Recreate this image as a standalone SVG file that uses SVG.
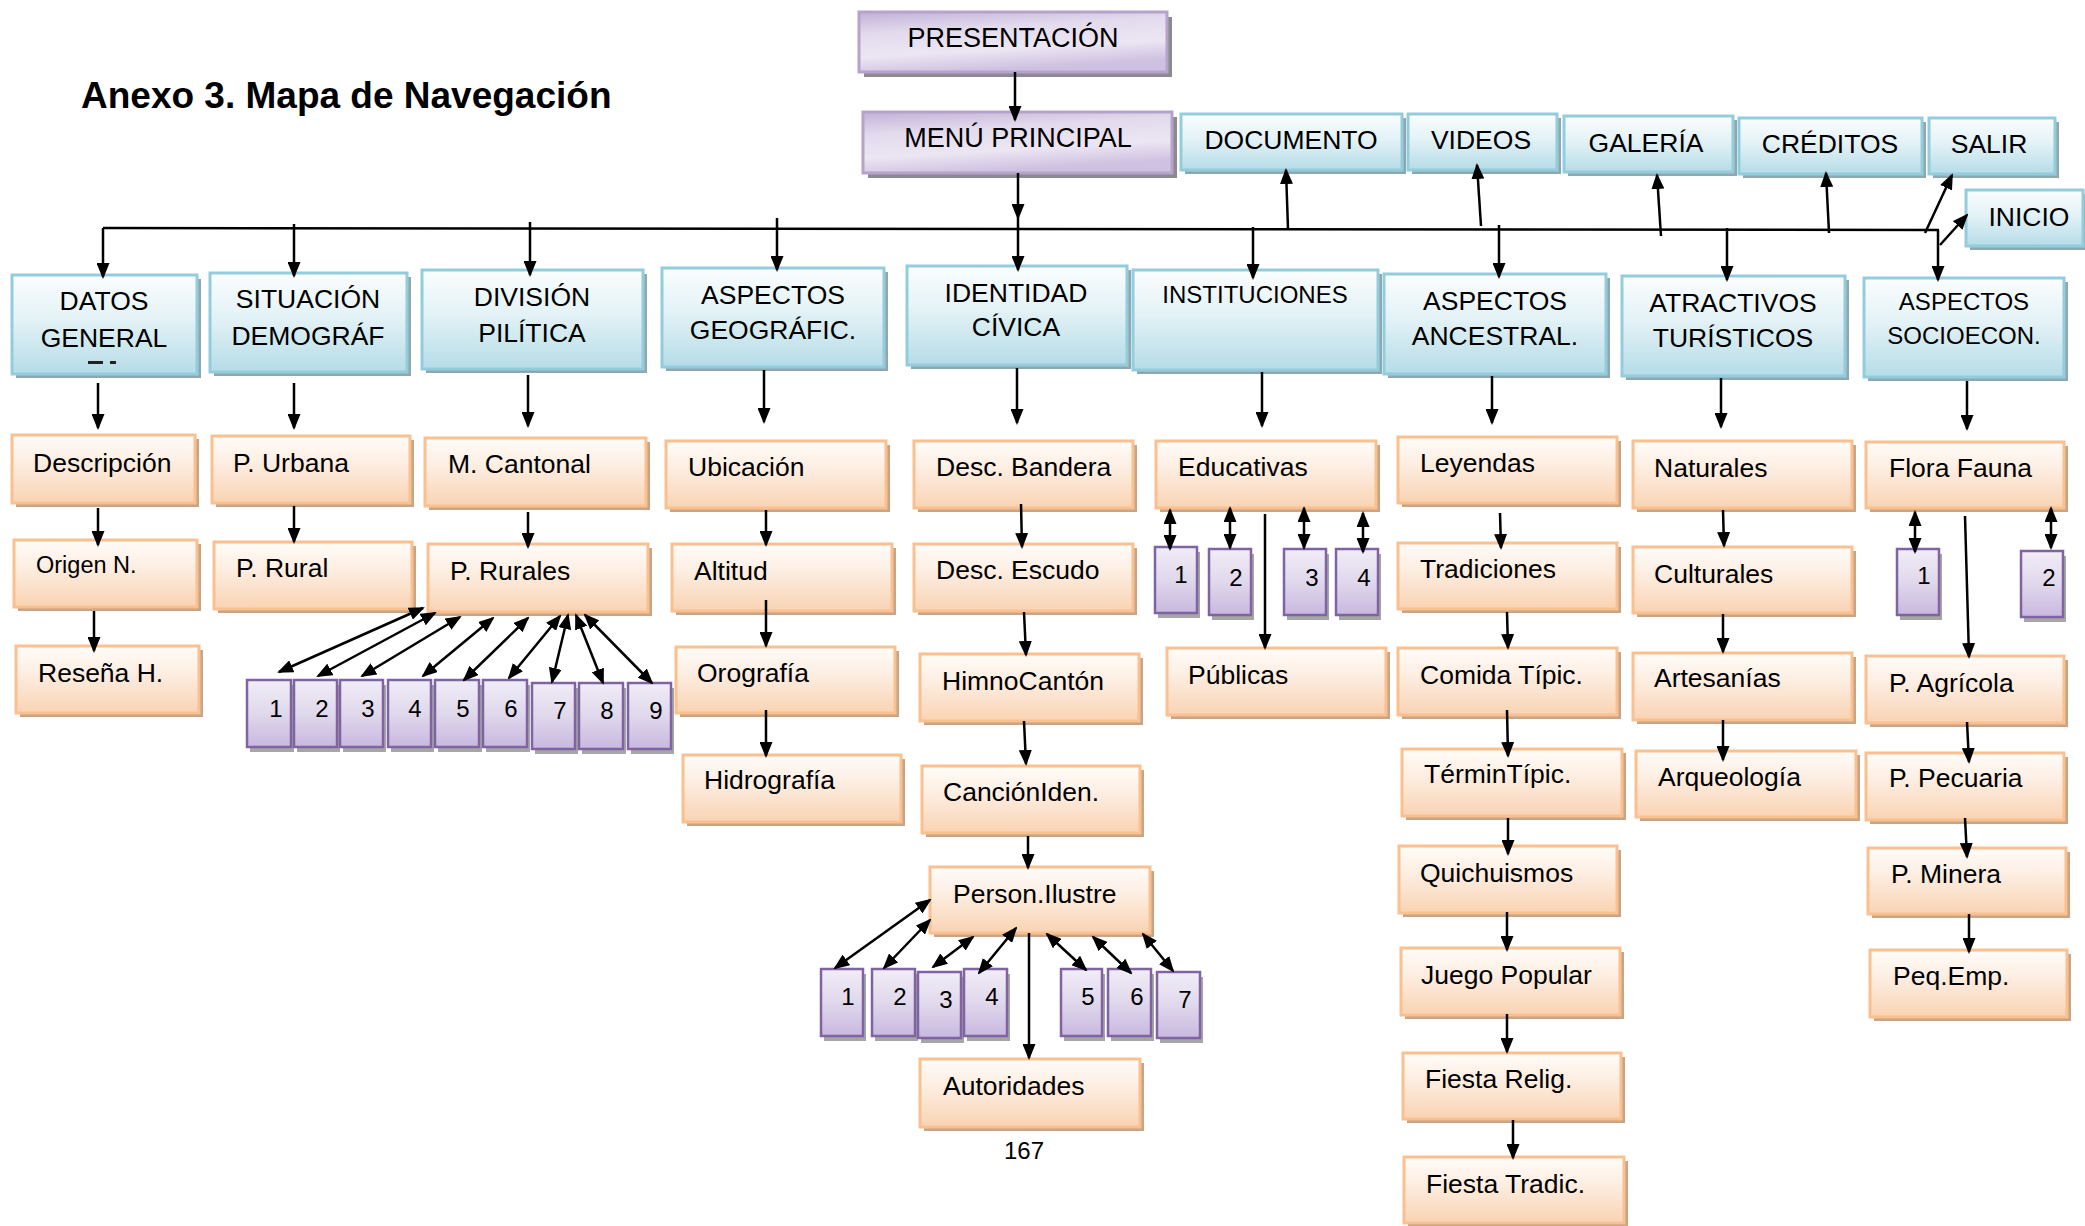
<svg xmlns="http://www.w3.org/2000/svg" width="2085" height="1226" viewBox="0 0 2085 1226">
<defs>
<linearGradient id="gB" x1="0" y1="0" x2="0" y2="1"><stop offset="0" stop-color="#fbfdfe"/><stop offset="0.45" stop-color="#e3f2f6"/><stop offset="1" stop-color="#b5dce7"/></linearGradient>
<linearGradient id="gP" x1="0" y1="0" x2="0" y2="1"><stop offset="0" stop-color="#fffcf9"/><stop offset="0.4" stop-color="#fdeee2"/><stop offset="1" stop-color="#f9d3b3"/></linearGradient>
<linearGradient id="gN" x1="0" y1="0" x2="0" y2="1"><stop offset="0" stop-color="#f1edf7"/><stop offset="0.5" stop-color="#e0d8ec"/><stop offset="1" stop-color="#c8b8df"/></linearGradient>
<linearGradient id="gH" x1="0" y1="0" x2="0.3" y2="1"><stop offset="0" stop-color="#c2b0d7"/><stop offset="0.35" stop-color="#e3dbed"/><stop offset="0.7" stop-color="#ece6f3"/><stop offset="1" stop-color="#cfc1e1"/></linearGradient>
<marker id="ah" viewBox="0 0 16 13" refX="14" refY="6.5" markerWidth="16" markerHeight="13" markerUnits="userSpaceOnUse" orient="auto-start-reverse"><path d="M0,0 L16,6.5 L0,13 z" fill="#000"/></marker>
<style>
.t{font-family:"Liberation Sans",Arial,sans-serif;font-size:26.5px;fill:#000}
.c{text-anchor:middle}
.sB{fill:#8fa8b0}
.sP{fill:#c9a585}
.sN{fill:#a6a6a6}
.sH{fill:#8c8a90}
.bB{fill:url(#gB);stroke:#93cddd;stroke-width:3}
.bP{fill:url(#gP);stroke:#fac08f;stroke-width:3}
.bN{fill:url(#gN);stroke:#8064a2;stroke-width:2.5}
.bH{fill:url(#gH);stroke:#b5a3cb;stroke-width:3}
.ln{stroke:#000;stroke-width:2.5;fill:none;marker-end:url(#ah)}
.db{marker-start:url(#ah)}
.pl{stroke:#000;stroke-width:2.5;fill:none}
</style>
</defs>
<rect width="2085" height="1226" fill="#fff"/>
<text class="t" x="81" y="108" style="font-size:37px;font-weight:bold">Anexo 3. Mapa de Navegación</text>
<text class="t c" x="1024" y="1159" style="font-size:24px">167</text>

<g id="presentacion"><rect class="sH" x="864" y="17" width="308" height="60"/><rect class="bH" x="859" y="12" width="308" height="60"/><text class="t c" x="1013" y="47" style="font-size:27px">PRESENTACIÓN</text></g>
<g id="menu"><rect class="sH" x="868" y="117" width="309" height="61"/><rect class="bH" x="863" y="112" width="309" height="61"/><text class="t c" x="1018" y="147" style="font-size:27px">MENÚ PRINCIPAL</text></g>

<g id="documento"><rect class="sB" x="1185" y="118" width="221" height="56"/><rect class="bB" x="1181" y="114" width="221" height="56"/><text class="t c" x="1291" y="149">DOCUMENTO</text></g>
<g id="videos"><rect class="sB" x="1412" y="118" width="149" height="56"/><rect class="bB" x="1408" y="114" width="149" height="56"/><text class="t c" x="1481" y="149">VIDEOS</text></g>
<g id="galeria"><rect class="sB" x="1568" y="120" width="169" height="56"/><rect class="bB" x="1564" y="116" width="169" height="56"/><text class="t c" x="1646" y="152">GALERÍA</text></g>
<g id="creditos"><rect class="sB" x="1743" y="122" width="183" height="56"/><rect class="bB" x="1739" y="118" width="183" height="56"/><text class="t c" x="1830" y="153">CRÉDITOS</text></g>
<g id="salir"><rect class="sB" x="1933" y="122" width="126" height="56"/><rect class="bB" x="1929" y="118" width="126" height="56"/><text class="t c" x="1989" y="153">SALIR</text></g>
<g id="inicio"><rect class="sB" x="1970" y="194" width="117" height="56"/><rect class="bB" x="1966" y="190" width="117" height="56"/><text class="t c" x="2029" y="226">INICIO</text></g>

<g id="datos"><rect class="sB" x="16" y="279" width="185" height="99"/><rect class="bB" x="12" y="275" width="185" height="99"/><text class="t c" x="104" y="310">DATOS</text><text class="t c" x="104" y="347">GENERAL</text><rect x="88" y="361" width="15" height="3" fill="#222"/><rect x="110" y="361" width="6" height="3" fill="#222"/></g>
<g id="situacion"><rect class="sB" x="214" y="277" width="197" height="99"/><rect class="bB" x="210" y="273" width="197" height="99"/><text class="t c" x="308" y="308">SITUACIÓN</text><text class="t c" x="308" y="345">DEMOGRÁF</text></g>
<g id="division"><rect class="sB" x="426" y="274" width="221" height="99"/><rect class="bB" x="422" y="270" width="221" height="99"/><text class="t c" x="532" y="306">DIVISIÓN</text><text class="t c" x="532" y="342">PILÍTICA</text></g>
<g id="geografic"><rect class="sB" x="666" y="272" width="222" height="99"/><rect class="bB" x="662" y="268" width="222" height="99"/><text class="t c" x="773" y="304">ASPECTOS</text><text class="t c" x="773" y="339">GEOGRÁFIC.</text></g>
<g id="identidad"><rect class="sB" x="911" y="270" width="220" height="99"/><rect class="bB" x="907" y="266" width="220" height="99"/><text class="t c" x="1016" y="302">IDENTIDAD</text><text class="t c" x="1016" y="336">CÍVICA</text></g>
<g id="instituciones"><rect class="sB" x="1137" y="274" width="245" height="100"/><rect class="bB" x="1133" y="270" width="245" height="100"/><text class="t c" x="1255" y="303" style="font-size:24px">INSTITUCIONES</text></g>
<g id="ancestral"><rect class="sB" x="1388" y="278" width="222" height="100"/><rect class="bB" x="1384" y="274" width="222" height="100"/><text class="t c" x="1495" y="310">ASPECTOS</text><text class="t c" x="1495" y="345">ANCESTRAL.</text></g>
<g id="atractivos"><rect class="sB" x="1626" y="280" width="223" height="100"/><rect class="bB" x="1622" y="276" width="223" height="100"/><text class="t c" x="1733" y="312">ATRACTIVOS</text><text class="t c" x="1733" y="347">TURÍSTICOS</text></g>
<g id="socioecon"><rect class="sB" x="1868" y="282" width="200" height="99"/><rect class="bB" x="1864" y="278" width="200" height="99"/><text class="t c" x="1964" y="310" style="font-size:24px">ASPECTOS</text><text class="t c" x="1964" y="344" style="font-size:24px">SOCIOECON.</text></g>

<g id="descripcion"><rect class="sP" x="16" y="439" width="183" height="68"/><rect class="bP" x="12" y="435" width="183" height="68"/><text class="t" x="33" y="472">Descripción</text></g>
<g id="origen"><rect class="sP" x="18" y="544" width="183" height="67"/><rect class="bP" x="14" y="540" width="183" height="67"/><text class="t" x="36" y="573" style="font-size:23.5px">Origen N.</text></g>
<g id="resena"><rect class="sP" x="20" y="650" width="183" height="67"/><rect class="bP" x="16" y="646" width="183" height="67"/><text class="t" x="38" y="682">Reseña H.</text></g>

<g id="urbana"><rect class="sP" x="216" y="440" width="198" height="67"/><rect class="bP" x="212" y="436" width="198" height="67"/><text class="t" x="233" y="472">P. Urbana</text></g>
<g id="rural"><rect class="sP" x="218" y="546" width="198" height="67"/><rect class="bP" x="214" y="542" width="198" height="67"/><text class="t" x="236" y="577">P. Rural</text></g>

<g id="cantonal"><rect class="sP" x="429" y="442" width="221" height="68"/><rect class="bP" x="425" y="438" width="221" height="68"/><text class="t" x="448" y="473">M. Cantonal</text></g>
<g id="rurales"><rect class="sP" x="432" y="548" width="220" height="68"/><rect class="bP" x="428" y="544" width="220" height="68"/><text class="t" x="450" y="580">P. Rurales</text></g>
<g id="rurales-n">
<rect class="sN" x="250" y="685" width="44" height="67"/><rect class="bN" x="247" y="680" width="44" height="67"/><text class="t c" x="276" y="717" style="font-size:24px">1</text>
<rect class="sN" x="297" y="685" width="43" height="67"/><rect class="bN" x="294" y="680" width="43" height="67"/><text class="t c" x="322" y="717" style="font-size:24px">2</text>
<rect class="sN" x="343" y="685" width="43" height="67"/><rect class="bN" x="340" y="680" width="43" height="67"/><text class="t c" x="368" y="717" style="font-size:24px">3</text>
<rect class="sN" x="391" y="685" width="43" height="67"/><rect class="bN" x="388" y="680" width="43" height="67"/><text class="t c" x="415" y="717" style="font-size:24px">4</text>
<rect class="sN" x="438" y="685" width="44" height="67"/><rect class="bN" x="435" y="680" width="44" height="67"/><text class="t c" x="463" y="717" style="font-size:24px">5</text>
<rect class="sN" x="486" y="685" width="44" height="67"/><rect class="bN" x="483" y="680" width="44" height="67"/><text class="t c" x="511" y="717" style="font-size:24px">6</text>
<rect class="sN" x="535" y="688" width="43" height="66"/><rect class="bN" x="532" y="683" width="43" height="66"/><text class="t c" x="560" y="719" style="font-size:24px">7</text>
<rect class="sN" x="582" y="688" width="44" height="66"/><rect class="bN" x="579" y="683" width="44" height="66"/><text class="t c" x="607" y="719" style="font-size:24px">8</text>
<rect class="sN" x="631" y="688" width="43" height="66"/><rect class="bN" x="628" y="683" width="43" height="66"/><text class="t c" x="656" y="719" style="font-size:24px">9</text>
</g>

<g id="ubicacion"><rect class="sP" x="670" y="445" width="220" height="67"/><rect class="bP" x="666" y="441" width="220" height="67"/><text class="t" x="688" y="476">Ubicación</text></g>
<g id="altitud"><rect class="sP" x="676" y="548" width="220" height="67"/><rect class="bP" x="672" y="544" width="220" height="67"/><text class="t" x="694" y="580">Altitud</text></g>
<g id="orografia"><rect class="sP" x="680" y="651" width="219" height="66"/><rect class="bP" x="676" y="647" width="219" height="66"/><text class="t" x="697" y="682">Orografía</text></g>
<g id="hidrografia"><rect class="sP" x="687" y="759" width="218" height="67"/><rect class="bP" x="683" y="755" width="218" height="67"/><text class="t" x="704" y="789">Hidrografía</text></g>

<g id="bandera"><rect class="sP" x="918" y="445" width="219" height="67"/><rect class="bP" x="914" y="441" width="219" height="67"/><text class="t" x="936" y="476">Desc. Bandera</text></g>
<g id="escudo"><rect class="sP" x="918" y="548" width="219" height="67"/><rect class="bP" x="914" y="544" width="219" height="67"/><text class="t" x="936" y="579">Desc. Escudo</text></g>
<g id="himno"><rect class="sP" x="924" y="658" width="219" height="67"/><rect class="bP" x="920" y="654" width="219" height="67"/><text class="t" x="942" y="690">HimnoCantón</text></g>
<g id="cancion"><rect class="sP" x="926" y="770" width="218" height="67"/><rect class="bP" x="922" y="766" width="218" height="67"/><text class="t" x="943" y="801">CanciónIden.</text></g>
<g id="person"><rect class="sP" x="934" y="871" width="220" height="66"/><rect class="bP" x="930" y="867" width="220" height="66"/><text class="t" x="953" y="903">Person.Ilustre</text></g>
<g id="autoridades"><rect class="sP" x="924" y="1063" width="220" height="68"/><rect class="bP" x="920" y="1059" width="220" height="68"/><text class="t" x="943" y="1095">Autoridades</text></g>
<g id="person-n">
<rect class="sN" x="824" y="974" width="42" height="67"/><rect class="bN" x="821" y="969" width="42" height="67"/><text class="t c" x="848" y="1005" style="font-size:24px">1</text>
<rect class="sN" x="875" y="974" width="43" height="67"/><rect class="bN" x="872" y="969" width="43" height="67"/><text class="t c" x="900" y="1005" style="font-size:24px">2</text>
<rect class="sN" x="921" y="977" width="43" height="66"/><rect class="bN" x="918" y="972" width="43" height="66"/><text class="t c" x="946" y="1008" style="font-size:24px">3</text>
<rect class="sN" x="967" y="974" width="43" height="67"/><rect class="bN" x="964" y="969" width="43" height="67"/><text class="t c" x="992" y="1005" style="font-size:24px">4</text>
<rect class="sN" x="1064" y="974" width="41" height="67"/><rect class="bN" x="1061" y="969" width="41" height="67"/><text class="t c" x="1088" y="1005" style="font-size:24px">5</text>
<rect class="sN" x="1111" y="974" width="43" height="67"/><rect class="bN" x="1108" y="969" width="43" height="67"/><text class="t c" x="1137" y="1005" style="font-size:24px">6</text>
<rect class="sN" x="1160" y="977" width="43" height="66"/><rect class="bN" x="1157" y="972" width="43" height="66"/><text class="t c" x="1185" y="1008" style="font-size:24px">7</text>
</g>

<g id="educativas"><rect class="sP" x="1160" y="445" width="220" height="67"/><rect class="bP" x="1156" y="441" width="220" height="67"/><text class="t" x="1178" y="476">Educativas</text></g>
<g id="educativas-n">
<rect class="sN" x="1158" y="552" width="42" height="66"/><rect class="bN" x="1155" y="547" width="42" height="66"/><text class="t c" x="1181" y="583" style="font-size:24px">1</text>
<rect class="sN" x="1212" y="554" width="42" height="66"/><rect class="bN" x="1209" y="549" width="42" height="66"/><text class="t c" x="1236" y="586" style="font-size:24px">2</text>
<rect class="sN" x="1287" y="554" width="42" height="66"/><rect class="bN" x="1284" y="549" width="42" height="66"/><text class="t c" x="1312" y="586" style="font-size:24px">3</text>
<rect class="sN" x="1339" y="554" width="42" height="66"/><rect class="bN" x="1336" y="549" width="42" height="66"/><text class="t c" x="1364" y="586" style="font-size:24px">4</text>
</g>
<g id="publicas"><rect class="sP" x="1171" y="652" width="219" height="67"/><rect class="bP" x="1167" y="648" width="219" height="67"/><text class="t" x="1188" y="684">Públicas</text></g>

<g id="leyendas"><rect class="sP" x="1402" y="441" width="219" height="66"/><rect class="bP" x="1398" y="437" width="219" height="66"/><text class="t" x="1420" y="472">Leyendas</text></g>
<g id="tradiciones"><rect class="sP" x="1402" y="547" width="219" height="66"/><rect class="bP" x="1398" y="543" width="219" height="66"/><text class="t" x="1420" y="578">Tradiciones</text></g>
<g id="comida"><rect class="sP" x="1402" y="652" width="219" height="67"/><rect class="bP" x="1398" y="648" width="219" height="67"/><text class="t" x="1420" y="684">Comida Típic.</text></g>
<g id="termin"><rect class="sP" x="1406" y="753" width="220" height="67"/><rect class="bP" x="1402" y="749" width="220" height="67"/><text class="t" x="1424" y="783">TérminTípic.</text></g>
<g id="quichuismos"><rect class="sP" x="1403" y="850" width="218" height="67"/><rect class="bP" x="1399" y="846" width="218" height="67"/><text class="t" x="1420" y="882">Quichuismos</text></g>
<g id="juego"><rect class="sP" x="1405" y="952" width="219" height="67"/><rect class="bP" x="1401" y="948" width="219" height="67"/><text class="t" x="1421" y="984">Juego Popular</text></g>
<g id="religiosa"><rect class="sP" x="1407" y="1057" width="218" height="66"/><rect class="bP" x="1403" y="1053" width="218" height="66"/><text class="t" x="1425" y="1088">Fiesta Relig.</text></g>
<g id="tradicional"><rect class="sP" x="1408" y="1161" width="220" height="66"/><rect class="bP" x="1404" y="1157" width="220" height="66"/><text class="t" x="1426" y="1193">Fiesta Tradic.</text></g>

<g id="naturales"><rect class="sP" x="1637" y="445" width="219" height="67"/><rect class="bP" x="1633" y="441" width="219" height="67"/><text class="t" x="1654" y="477">Naturales</text></g>
<g id="culturales"><rect class="sP" x="1637" y="551" width="219" height="66"/><rect class="bP" x="1633" y="547" width="219" height="66"/><text class="t" x="1654" y="583">Culturales</text></g>
<g id="artesanias"><rect class="sP" x="1637" y="657" width="219" height="67"/><rect class="bP" x="1633" y="653" width="219" height="67"/><text class="t" x="1654" y="687">Artesanías</text></g>
<g id="arqueologia"><rect class="sP" x="1640" y="755" width="220" height="66"/><rect class="bP" x="1636" y="751" width="220" height="66"/><text class="t" x="1658" y="786">Arqueología</text></g>

<g id="flora"><rect class="sP" x="1870" y="446" width="198" height="66"/><rect class="bP" x="1866" y="442" width="198" height="66"/><text class="t" x="1889" y="477">Flora Fauna</text></g>
<g id="flora-n">
<rect class="sN" x="1900" y="554" width="42" height="66"/><rect class="bN" x="1897" y="549" width="42" height="66"/><text class="t c" x="1924" y="584" style="font-size:24px">1</text>
<rect class="sN" x="2024" y="556" width="42" height="66"/><rect class="bN" x="2021" y="551" width="42" height="66"/><text class="t c" x="2049" y="586" style="font-size:24px">2</text>
</g>
<g id="agricola"><rect class="sP" x="1870" y="660" width="198" height="67"/><rect class="bP" x="1866" y="656" width="198" height="67"/><text class="t" x="1889" y="692">P. Agrícola</text></g>
<g id="pecuaria"><rect class="sP" x="1870" y="757" width="198" height="67"/><rect class="bP" x="1866" y="753" width="198" height="67"/><text class="t" x="1889" y="787">P. Pecuaria</text></g>
<g id="minera"><rect class="sP" x="1872" y="852" width="198" height="66"/><rect class="bP" x="1868" y="848" width="198" height="66"/><text class="t" x="1891" y="883">P. Minera</text></g>
<g id="pequena"><rect class="sP" x="1874" y="954" width="197" height="67"/><rect class="bP" x="1870" y="950" width="197" height="67"/><text class="t" x="1893" y="985">Peq.Emp.</text></g>

<g id="connectors">
<line class="ln" x1="1015" y1="72" x2="1015" y2="120"/>
<line class="ln" x1="1018" y1="173" x2="1018" y2="218"/>
<line class="ln" x1="1018" y1="218" x2="1018" y2="270"/>
<line class="pl" x1="103" y1="228" x2="1939" y2="230"/>
<line class="ln" x1="103" y1="228" x2="103" y2="277"/>
<line class="ln" x1="294" y1="224" x2="294" y2="276"/>
<line class="ln" x1="530" y1="222" x2="530" y2="275"/>
<line class="ln" x1="777" y1="218" x2="777" y2="270"/>
<line class="ln" x1="1253" y1="227" x2="1253" y2="278"/>
<line class="ln" x1="1499" y1="225" x2="1499" y2="277"/>
<line class="ln" x1="1727" y1="228" x2="1727" y2="280"/>
<line class="ln" x1="1938" y1="230" x2="1938" y2="280"/>
<line class="ln" x1="1288" y1="229" x2="1286" y2="170"/>
<line class="ln" x1="1481" y1="226" x2="1477" y2="165"/>
<line class="ln" x1="1661" y1="236" x2="1657" y2="175"/>
<line class="ln" x1="1829" y1="233" x2="1826" y2="173"/>
<line class="ln" x1="1925" y1="233" x2="1952" y2="175"/>
<line class="ln" x1="1940" y1="245" x2="1967" y2="215"/>

<line class="ln" x1="98" y1="383" x2="98" y2="428"/>
<line class="ln" x1="98" y1="508" x2="98" y2="545"/>
<line class="ln" x1="94" y1="611" x2="94" y2="651"/>
<line class="ln" x1="294" y1="383" x2="294" y2="428"/>
<line class="ln" x1="294" y1="506" x2="294" y2="542"/>
<line class="ln" x1="528" y1="375" x2="528" y2="426"/>
<line class="ln" x1="528" y1="512" x2="528" y2="547"/>
<line class="ln" x1="764" y1="370" x2="764" y2="422"/>
<line class="ln" x1="766" y1="510" x2="766" y2="545"/>
<line class="ln" x1="766" y1="600" x2="766" y2="646"/>
<line class="ln" x1="766" y1="710" x2="766" y2="756"/>
<line class="ln" x1="1017" y1="368" x2="1017" y2="423"/>
<line class="ln" x1="1021" y1="504" x2="1022" y2="547"/>
<line class="ln" x1="1024" y1="612" x2="1026" y2="655"/>
<line class="ln" x1="1024" y1="721" x2="1026" y2="764"/>
<line class="ln" x1="1028" y1="836" x2="1028" y2="868"/>
<line class="ln" x1="1029" y1="933" x2="1029" y2="1058"/>
<line class="ln" x1="1262" y1="372" x2="1262" y2="426"/>
<line class="ln" x1="1265" y1="514" x2="1265" y2="648"/>
<line class="ln" x1="1492" y1="376" x2="1492" y2="423"/>
<line class="ln" x1="1500" y1="513" x2="1501" y2="548"/>
<line class="ln" x1="1507" y1="612" x2="1508" y2="648"/>
<line class="ln" x1="1507" y1="710" x2="1508" y2="756"/>
<line class="ln" x1="1508" y1="818" x2="1508" y2="854"/>
<line class="ln" x1="1507" y1="912" x2="1507" y2="950"/>
<line class="ln" x1="1507" y1="1014" x2="1507" y2="1052"/>
<line class="ln" x1="1513" y1="1120" x2="1513" y2="1158"/>
<line class="ln" x1="1721" y1="378" x2="1721" y2="427"/>
<line class="ln" x1="1723" y1="510" x2="1724" y2="546"/>
<line class="ln" x1="1723" y1="614" x2="1723" y2="652"/>
<line class="ln" x1="1723" y1="720" x2="1723" y2="760"/>
<line class="ln" x1="1967" y1="381" x2="1967" y2="429"/>
<line class="ln" x1="1965" y1="516" x2="1969" y2="657"/>
<line class="ln" x1="1967" y1="722" x2="1969" y2="762"/>
<line class="ln" x1="1965" y1="818" x2="1967" y2="857"/>
<line class="ln" x1="1969" y1="914" x2="1969" y2="952"/>

<line class="ln db" x1="423" y1="608" x2="279" y2="672"/>
<line class="ln db" x1="435" y1="613" x2="318" y2="676"/>
<line class="ln db" x1="460" y1="617" x2="362" y2="676"/>
<line class="ln db" x1="493" y1="618" x2="423" y2="676"/>
<line class="ln db" x1="528" y1="618" x2="464" y2="680"/>
<line class="ln db" x1="560" y1="616" x2="509" y2="678"/>
<line class="ln db" x1="568" y1="615" x2="552" y2="682"/>
<line class="ln db" x1="576" y1="615" x2="603" y2="683"/>
<line class="ln db" x1="585" y1="615" x2="652" y2="683"/>

<line class="ln db" x1="930" y1="900" x2="835" y2="968"/>
<line class="ln db" x1="930" y1="920" x2="884" y2="968"/>
<line class="ln db" x1="973" y1="937" x2="933" y2="967"/>
<line class="ln db" x1="1016" y1="928" x2="979" y2="973"/>
<line class="ln db" x1="1047" y1="934" x2="1086" y2="970"/>
<line class="ln db" x1="1093" y1="937" x2="1131" y2="973"/>
<line class="ln db" x1="1143" y1="934" x2="1173" y2="971"/>

<line class="ln db" x1="1170" y1="510" x2="1170" y2="549"/>
<line class="ln db" x1="1230" y1="508" x2="1230" y2="548"/>
<line class="ln db" x1="1304" y1="508" x2="1304" y2="548"/>
<line class="ln db" x1="1363" y1="513" x2="1363" y2="552"/>
<line class="ln db" x1="1915" y1="512" x2="1915" y2="552"/>
<line class="ln db" x1="2051" y1="508" x2="2051" y2="548"/>
</g>
</svg>
